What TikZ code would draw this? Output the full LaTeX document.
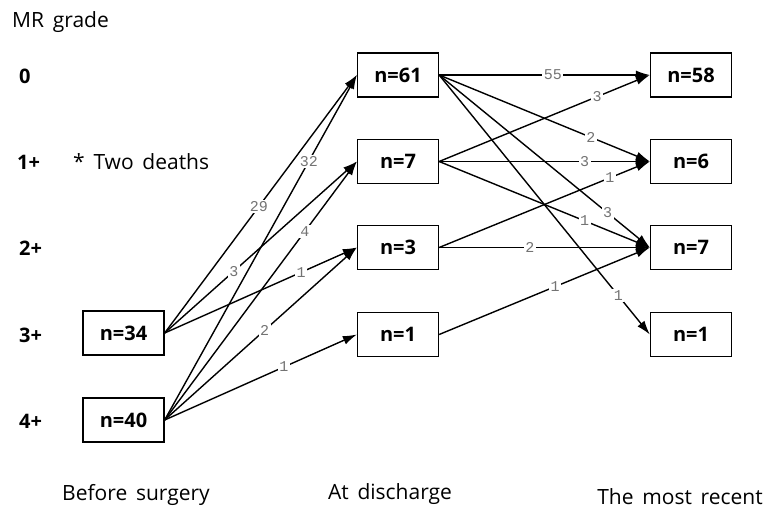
\documentclass[tikz,border=0pt]{standalone}
\usepackage{fontspec}
\setmainfont{Open Sans}[WordSpace=1.6]
\newfontfamily\countfont{Liberation Mono}
\usetikzlibrary{arrows.meta}
\tikzset{
    gradebox/.style={draw, line width=1.3pt, minimum width=81pt, minimum height=44pt, inner sep=0pt, font=\fontsize{20}{24}\selectfont\bfseries},
    rowlabel/.style={anchor=west, inner sep=0pt, font=\fontsize{20}{24}\selectfont\bfseries},
    plaintext/.style={inner sep=0pt, font=\fontsize{21}{25}\selectfont},
    flowarrow/.style={-{Latex[length=14pt,width=9pt]}, line width=1.4pt},
    countlabel/.style={fill=white, inner sep=1.5pt, text=black!55, font=\countfont\fontsize{15}{17}\selectfont}
}

\begin{document}
\begin{tikzpicture}[x=1pt, y=-1pt]
    \useasboundingbox (0,0) rectangle (773,514);

    % Grade axis and notes
    \node[plaintext, anchor=west] (axis) at (12,22) {MR grade};
    \node[rowlabel] (g0) at (19,76) {0};
    \node[rowlabel] (g1) at (17,162) {1+};
    \node[rowlabel] (g2) at (19,248) {2+};
    \node[rowlabel] (g3) at (19,335) {3+};
    \node[rowlabel] (g4) at (19,421) {4+};
    \node[plaintext, anchor=west] (deaths) at (73,162) {*\ Two deaths};

    % Before surgery
    \node[gradebox] (pre34) at (123.5,333) {n=34};
    \node[gradebox] (pre40) at (123.5,420) {n=40};

    % At discharge
    \node[gradebox] (dis61) at (398,75) {n=61};
    \node[gradebox] (dis7) at (398,161.5) {n=7};
    \node[gradebox] (dis3) at (398,247.5) {n=3};
    \node[gradebox] (dis1) at (398,334.5) {n=1};

    % The most recent
    \node[gradebox] (rec58) at (691,75) {n=58};
    \node[gradebox] (rec6) at (691,161.5) {n=6};
    \node[gradebox] (rec7) at (691,247.5) {n=7};
    \node[gradebox] (rec1) at (691,334.5) {n=1};

    % Column titles
    \node[plaintext] (t1) at (136,495) {Before surgery};
    \node[plaintext] (t2) at (390,494) {At discharge};
    \node[plaintext] (t3) at (680,497) {The most recent};

    % Surgery to discharge
    \draw[flowarrow] (pre34.east) -- node[countlabel, pos=0.49] {29} (dis61.west);
    \draw[flowarrow] (pre34.east) -- node[countlabel, pos=0.36] {3} (dis7.west);
    \draw[flowarrow] (pre34.east) -- node[countlabel, pos=0.71] {1} (dis3.west);
    \draw[flowarrow] (pre40.east) -- node[countlabel, pos=0.75] {32} (dis61.west);
    \draw[flowarrow] (pre40.east) -- node[countlabel, pos=0.73] {4} (dis7.west);
    \draw[flowarrow] (pre40.east) -- node[countlabel, pos=0.52] {2} (dis3.west);
    \draw[flowarrow] (pre40.east) -- node[countlabel, pos=0.62] {1} (dis1.west);

    % Discharge to most recent
    \draw[flowarrow] (dis61.east) -- node[countlabel, pos=0.54] {55} (rec58.west);
    \draw[flowarrow] (dis61.east) -- node[countlabel, pos=0.72] {2} (rec6.west);
    \draw[flowarrow] (dis61.east) -- node[countlabel, pos=0.8] {3} (rec7.west);
    \draw[flowarrow] (dis61.east) -- node[countlabel, pos=0.85] {1} (rec1.west);
    \draw[flowarrow] (dis7.east) -- node[countlabel, pos=0.75] {3} (rec58.west);
    \draw[flowarrow] (dis7.east) -- node[countlabel, pos=0.69] {3} (rec6.west);
    \draw[flowarrow] (dis7.east) -- node[countlabel, pos=0.69] {1} (rec7.west);
    \draw[flowarrow] (dis3.east) -- node[countlabel, pos=0.81] {1} (rec6.west);
    \draw[flowarrow] (dis3.east) -- node[countlabel, pos=0.43] {2} (rec7.west);
    \draw[flowarrow] (dis1.east) -- node[countlabel, pos=0.55] {1} (rec7.west);
\end{tikzpicture}
\end{document}
